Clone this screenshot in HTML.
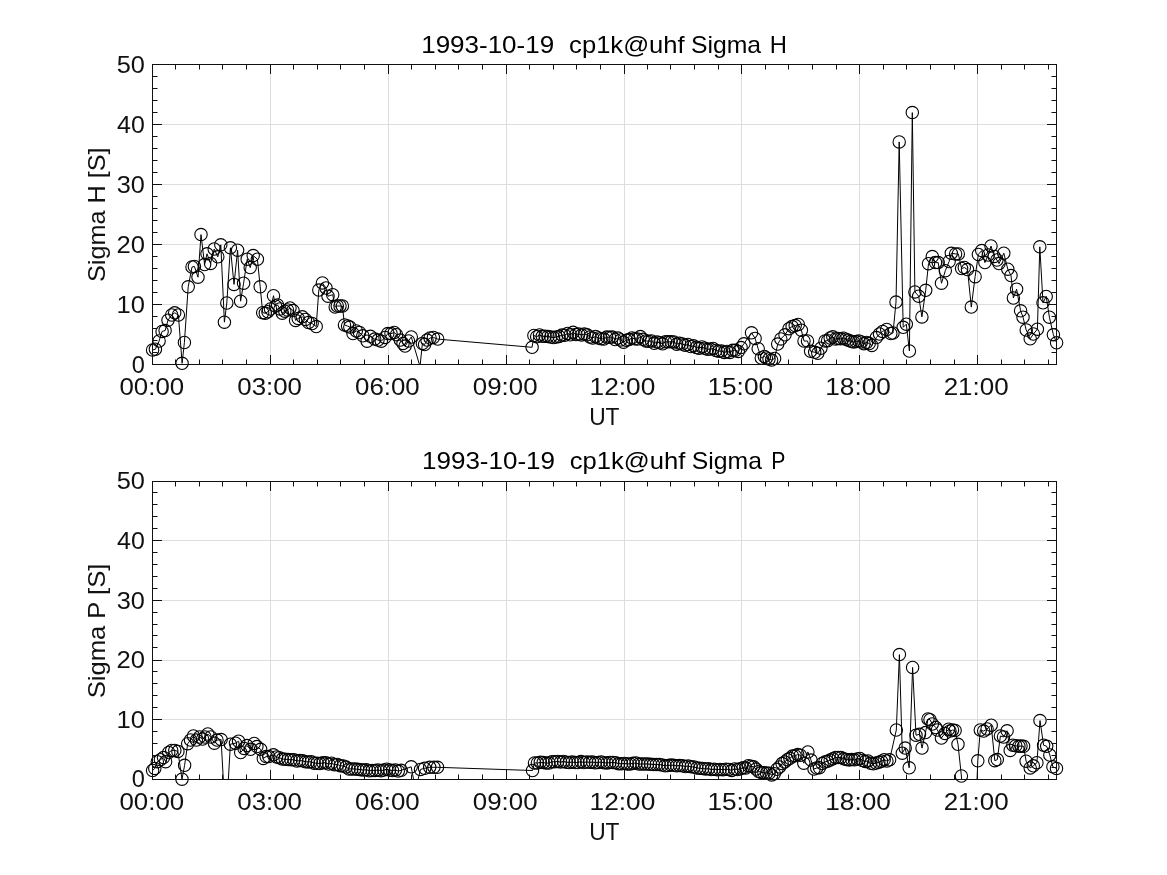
<!DOCTYPE html><html><head><meta charset="utf-8"><style>html,body{margin:0;padding:0;background:#fff;}svg{display:block;will-change:transform} text{font-family:"Liberation Sans",sans-serif;}</style></head><body>
<svg width="1167" height="875" viewBox="0 0 1167 875">
<rect width="1167" height="875" fill="#fff"/>
<path d="M270.5 64.5V364.5M388.5 64.5V364.5M506.5 64.5V364.5M624.5 64.5V364.5M741.5 64.5V364.5M859.5 64.5V364.5M977.5 64.5V364.5M152.5 304.5H1056.5M152.5 244.5H1056.5M152.5 184.5H1056.5M152.5 124.5H1056.5" stroke="#dedede" stroke-width="1" fill="none"/>
<svg x="152.5" y="64.5" width="904.0" height="300.0" viewBox="152.5 64.5 904.0 300.0" overflow="hidden">
<path d="M152.6 350.0 L155.4 349.2 L159.1 341.0 L162.1 331.4 L165.1 330.6 L168.0 320.2 L171.7 315.0 L174.7 312.8 L178.4 315.0 L182.1 363.3 L184.4 342.5 L188.2 286.8 L192.0 267.0 L194.4 266.4 L198.0 277.2 L201.0 234.6 L204.6 264.6 L207.0 253.8 L210.6 263.4 L214.2 249.0 L217.8 256.8 L220.8 244.8 L224.4 322.2 L226.8 303.0 L230.4 247.8 L234.0 284.4 L237.6 250.2 L240.6 301.2 L243.6 283.2 L247.2 259.2 L250.2 267.6 L253.2 255.6 L257.4 259.2 L260.2 286.8 L262.7 312.7 L265.3 313.2 L267.9 311.7 L270.5 309.0 L273.5 295.7 L275.6 306.0 L277.6 305.0 L280.0 309.0 L282.3 313.2 L284.8 311.2 L287.5 310.0 L290.0 308.0 L293.0 310.6 L295.6 320.4 L298.2 318.4 L302.3 316.8 L305.4 319.4 L308.5 322.5 L312.1 323.5 L316.2 326.6 L318.8 290.1 L322.4 282.9 L326.0 288.0 L328.0 296.2 L332.7 294.7 L335.2 307.0 L337.3 306.0 L340.0 306.0 L342.4 306.0 L344.5 325.0 L347.6 326.0 L349.8 327.1 L353.0 333.6 L356.3 330.9 L359.5 332.5 L362.8 335.8 L367.1 341.2 L370.4 336.3 L374.7 339.1 L378.0 340.1 L381.3 341.2 L385.0 337.4 L387.8 333.6 L391.0 333.6 L394.3 332.5 L396.5 334.7 L400.3 340.1 L403.0 343.4 L405.1 346.1 L408.5 341.0 L411.3 337.0 L420.0 366.5 L422.4 343.4 L424.6 344.5 L427.0 340.1 L430.1 338.0 L433.4 337.4 L437.7 339.1 L532.1 347.3 L533.9 335.5 L536.7 336.7 L539.5 335.0 L542.3 336.3 L545.1 336.2 L547.9 336.5 L550.7 337.1 L553.5 337.6 L556.3 336.9 L559.1 336.4 L561.9 335.1 L564.7 335.2 L567.5 333.4 L570.3 334.8 L573.1 332.3 L575.9 334.5 L578.7 334.1 L581.5 334.9 L584.3 334.1 L587.1 334.8 L589.9 336.9 L592.7 337.9 L595.5 336.5 L598.3 337.9 L601.1 338.7 L603.9 339.1 L606.7 337.1 L609.5 337.2 L612.3 337.1 L615.1 339.5 L617.9 338.1 L620.7 339.9 L623.5 342.2 L626.3 340.2 L629.1 339.6 L631.9 337.9 L634.7 338.8 L637.5 339.0 L640.3 336.6 L643.1 339.3 L645.9 340.9 L648.7 341.2 L651.5 340.9 L654.3 343.3 L657.1 342.1 L659.9 342.8 L662.7 343.8 L665.5 341.8 L668.3 341.8 L671.1 341.8 L673.9 341.9 L676.7 344.2 L679.5 343.3 L682.3 344.0 L685.1 345.2 L687.9 344.5 L690.7 346.5 L693.5 345.8 L696.3 347.5 L699.1 348.2 L701.9 346.9 L704.7 348.2 L707.5 349.3 L710.3 349.1 L713.1 348.5 L715.9 350.4 L718.7 351.2 L721.5 351.1 L724.3 352.4 L727.1 351.5 L729.9 352.4 L732.7 350.3 L735.5 350.3 L738.3 351.4 L741.1 347.6 L743.9 343.8 L751.5 332.8 L755.1 338.4 L758.2 348.7 L761.3 358.0 L764.4 356.4 L766.4 358.0 L769.0 359.0 L771.6 360.0 L774.6 358.5 L777.7 344.1 L780.8 338.9 L785.0 334.8 L789.0 328.7 L792.1 326.6 L795.2 325.6 L798.3 324.5 L801.4 330.2 L804.0 341.0 L807.5 341.0 L810.6 351.3 L814.7 352.3 L817.8 353.3 L820.9 348.2 L825.0 341.0 L827.6 340.7 L830.2 338.0 L832.8 336.8 L835.4 339.0 L838.0 338.4 L840.6 338.8 L843.2 338.2 L845.8 339.2 L848.4 340.2 L851.0 341.2 L853.6 342.0 L856.2 341.5 L858.8 341.0 L861.4 341.9 L864.0 343.7 L866.6 342.4 L869.2 343.6 L871.8 345.4 L876.4 337.6 L879.5 334.0 L882.6 331.4 L886.7 329.4 L890.8 333.5 L893.0 333.0 L896.0 302.1 L899.2 141.9 L903.2 327.3 L906.3 324.2 L909.4 351.0 L912.3 112.6 L914.9 291.9 L918.7 296.2 L921.9 316.9 L925.7 290.3 L928.5 263.7 L932.3 256.6 L935.5 262.6 L938.2 262.6 L941.5 283.2 L945.3 270.7 L949.1 261.5 L951.3 253.3 L955.6 253.9 L958.3 253.9 L961.6 268.5 L964.3 267.5 L967.5 269.6 L971.3 307.1 L975.1 276.7 L978.4 254.4 L981.7 250.6 L984.9 262.6 L988.2 255.0 L991.0 246.0 L994.2 256.4 L996.9 260.0 L999.0 263.6 L1003.8 253.2 L1007.8 269.2 L1011.0 275.6 L1013.4 298.0 L1016.6 289.2 L1020.6 310.8 L1023.0 317.2 L1026.2 330.0 L1030.2 338.8 L1033.4 334.0 L1037.4 329.2 L1039.8 246.8 L1043.0 302.8 L1046.2 296.4 L1049.4 317.2 L1053.4 334.8 L1056.6 342.8" stroke="#000" stroke-width="1" fill="none"/>
</svg>
<g stroke="#000" stroke-width="1.1" fill="none"><circle cx="152.6" cy="350.0" r="6.2"/><circle cx="155.4" cy="349.2" r="6.2"/><circle cx="159.1" cy="341.0" r="6.2"/><circle cx="162.1" cy="331.4" r="6.2"/><circle cx="165.1" cy="330.6" r="6.2"/><circle cx="168.0" cy="320.2" r="6.2"/><circle cx="171.7" cy="315.0" r="6.2"/><circle cx="174.7" cy="312.8" r="6.2"/><circle cx="178.4" cy="315.0" r="6.2"/><circle cx="182.1" cy="363.3" r="6.2"/><circle cx="184.4" cy="342.5" r="6.2"/><circle cx="188.2" cy="286.8" r="6.2"/><circle cx="192.0" cy="267.0" r="6.2"/><circle cx="194.4" cy="266.4" r="6.2"/><circle cx="198.0" cy="277.2" r="6.2"/><circle cx="201.0" cy="234.6" r="6.2"/><circle cx="204.6" cy="264.6" r="6.2"/><circle cx="207.0" cy="253.8" r="6.2"/><circle cx="210.6" cy="263.4" r="6.2"/><circle cx="214.2" cy="249.0" r="6.2"/><circle cx="217.8" cy="256.8" r="6.2"/><circle cx="220.8" cy="244.8" r="6.2"/><circle cx="224.4" cy="322.2" r="6.2"/><circle cx="226.8" cy="303.0" r="6.2"/><circle cx="230.4" cy="247.8" r="6.2"/><circle cx="234.0" cy="284.4" r="6.2"/><circle cx="237.6" cy="250.2" r="6.2"/><circle cx="240.6" cy="301.2" r="6.2"/><circle cx="243.6" cy="283.2" r="6.2"/><circle cx="247.2" cy="259.2" r="6.2"/><circle cx="250.2" cy="267.6" r="6.2"/><circle cx="253.2" cy="255.6" r="6.2"/><circle cx="257.4" cy="259.2" r="6.2"/><circle cx="260.2" cy="286.8" r="6.2"/><circle cx="262.7" cy="312.7" r="6.2"/><circle cx="265.3" cy="313.2" r="6.2"/><circle cx="267.9" cy="311.7" r="6.2"/><circle cx="270.5" cy="309.0" r="6.2"/><circle cx="273.5" cy="295.7" r="6.2"/><circle cx="275.6" cy="306.0" r="6.2"/><circle cx="277.6" cy="305.0" r="6.2"/><circle cx="280.0" cy="309.0" r="6.2"/><circle cx="282.3" cy="313.2" r="6.2"/><circle cx="284.8" cy="311.2" r="6.2"/><circle cx="287.5" cy="310.0" r="6.2"/><circle cx="290.0" cy="308.0" r="6.2"/><circle cx="293.0" cy="310.6" r="6.2"/><circle cx="295.6" cy="320.4" r="6.2"/><circle cx="298.2" cy="318.4" r="6.2"/><circle cx="302.3" cy="316.8" r="6.2"/><circle cx="305.4" cy="319.4" r="6.2"/><circle cx="308.5" cy="322.5" r="6.2"/><circle cx="312.1" cy="323.5" r="6.2"/><circle cx="316.2" cy="326.6" r="6.2"/><circle cx="318.8" cy="290.1" r="6.2"/><circle cx="322.4" cy="282.9" r="6.2"/><circle cx="326.0" cy="288.0" r="6.2"/><circle cx="328.0" cy="296.2" r="6.2"/><circle cx="332.7" cy="294.7" r="6.2"/><circle cx="335.2" cy="307.0" r="6.2"/><circle cx="337.3" cy="306.0" r="6.2"/><circle cx="340.0" cy="306.0" r="6.2"/><circle cx="342.4" cy="306.0" r="6.2"/><circle cx="344.5" cy="325.0" r="6.2"/><circle cx="347.6" cy="326.0" r="6.2"/><circle cx="349.8" cy="327.1" r="6.2"/><circle cx="353.0" cy="333.6" r="6.2"/><circle cx="356.3" cy="330.9" r="6.2"/><circle cx="359.5" cy="332.5" r="6.2"/><circle cx="362.8" cy="335.8" r="6.2"/><circle cx="367.1" cy="341.2" r="6.2"/><circle cx="370.4" cy="336.3" r="6.2"/><circle cx="374.7" cy="339.1" r="6.2"/><circle cx="378.0" cy="340.1" r="6.2"/><circle cx="381.3" cy="341.2" r="6.2"/><circle cx="385.0" cy="337.4" r="6.2"/><circle cx="387.8" cy="333.6" r="6.2"/><circle cx="391.0" cy="333.6" r="6.2"/><circle cx="394.3" cy="332.5" r="6.2"/><circle cx="396.5" cy="334.7" r="6.2"/><circle cx="400.3" cy="340.1" r="6.2"/><circle cx="403.0" cy="343.4" r="6.2"/><circle cx="405.1" cy="346.1" r="6.2"/><circle cx="408.5" cy="341.0" r="6.2"/><circle cx="411.3" cy="337.0" r="6.2"/><circle cx="422.4" cy="343.4" r="6.2"/><circle cx="424.6" cy="344.5" r="6.2"/><circle cx="427.0" cy="340.1" r="6.2"/><circle cx="430.1" cy="338.0" r="6.2"/><circle cx="433.4" cy="337.4" r="6.2"/><circle cx="437.7" cy="339.1" r="6.2"/><circle cx="532.1" cy="347.3" r="6.2"/><circle cx="533.9" cy="335.5" r="6.2"/><circle cx="536.7" cy="336.7" r="6.2"/><circle cx="539.5" cy="335.0" r="6.2"/><circle cx="542.3" cy="336.3" r="6.2"/><circle cx="545.1" cy="336.2" r="6.2"/><circle cx="547.9" cy="336.5" r="6.2"/><circle cx="550.7" cy="337.1" r="6.2"/><circle cx="553.5" cy="337.6" r="6.2"/><circle cx="556.3" cy="336.9" r="6.2"/><circle cx="559.1" cy="336.4" r="6.2"/><circle cx="561.9" cy="335.1" r="6.2"/><circle cx="564.7" cy="335.2" r="6.2"/><circle cx="567.5" cy="333.4" r="6.2"/><circle cx="570.3" cy="334.8" r="6.2"/><circle cx="573.1" cy="332.3" r="6.2"/><circle cx="575.9" cy="334.5" r="6.2"/><circle cx="578.7" cy="334.1" r="6.2"/><circle cx="581.5" cy="334.9" r="6.2"/><circle cx="584.3" cy="334.1" r="6.2"/><circle cx="587.1" cy="334.8" r="6.2"/><circle cx="589.9" cy="336.9" r="6.2"/><circle cx="592.7" cy="337.9" r="6.2"/><circle cx="595.5" cy="336.5" r="6.2"/><circle cx="598.3" cy="337.9" r="6.2"/><circle cx="601.1" cy="338.7" r="6.2"/><circle cx="603.9" cy="339.1" r="6.2"/><circle cx="606.7" cy="337.1" r="6.2"/><circle cx="609.5" cy="337.2" r="6.2"/><circle cx="612.3" cy="337.1" r="6.2"/><circle cx="615.1" cy="339.5" r="6.2"/><circle cx="617.9" cy="338.1" r="6.2"/><circle cx="620.7" cy="339.9" r="6.2"/><circle cx="623.5" cy="342.2" r="6.2"/><circle cx="626.3" cy="340.2" r="6.2"/><circle cx="629.1" cy="339.6" r="6.2"/><circle cx="631.9" cy="337.9" r="6.2"/><circle cx="634.7" cy="338.8" r="6.2"/><circle cx="637.5" cy="339.0" r="6.2"/><circle cx="640.3" cy="336.6" r="6.2"/><circle cx="643.1" cy="339.3" r="6.2"/><circle cx="645.9" cy="340.9" r="6.2"/><circle cx="648.7" cy="341.2" r="6.2"/><circle cx="651.5" cy="340.9" r="6.2"/><circle cx="654.3" cy="343.3" r="6.2"/><circle cx="657.1" cy="342.1" r="6.2"/><circle cx="659.9" cy="342.8" r="6.2"/><circle cx="662.7" cy="343.8" r="6.2"/><circle cx="665.5" cy="341.8" r="6.2"/><circle cx="668.3" cy="341.8" r="6.2"/><circle cx="671.1" cy="341.8" r="6.2"/><circle cx="673.9" cy="341.9" r="6.2"/><circle cx="676.7" cy="344.2" r="6.2"/><circle cx="679.5" cy="343.3" r="6.2"/><circle cx="682.3" cy="344.0" r="6.2"/><circle cx="685.1" cy="345.2" r="6.2"/><circle cx="687.9" cy="344.5" r="6.2"/><circle cx="690.7" cy="346.5" r="6.2"/><circle cx="693.5" cy="345.8" r="6.2"/><circle cx="696.3" cy="347.5" r="6.2"/><circle cx="699.1" cy="348.2" r="6.2"/><circle cx="701.9" cy="346.9" r="6.2"/><circle cx="704.7" cy="348.2" r="6.2"/><circle cx="707.5" cy="349.3" r="6.2"/><circle cx="710.3" cy="349.1" r="6.2"/><circle cx="713.1" cy="348.5" r="6.2"/><circle cx="715.9" cy="350.4" r="6.2"/><circle cx="718.7" cy="351.2" r="6.2"/><circle cx="721.5" cy="351.1" r="6.2"/><circle cx="724.3" cy="352.4" r="6.2"/><circle cx="727.1" cy="351.5" r="6.2"/><circle cx="729.9" cy="352.4" r="6.2"/><circle cx="732.7" cy="350.3" r="6.2"/><circle cx="735.5" cy="350.3" r="6.2"/><circle cx="738.3" cy="351.4" r="6.2"/><circle cx="741.1" cy="347.6" r="6.2"/><circle cx="743.9" cy="343.8" r="6.2"/><circle cx="751.5" cy="332.8" r="6.2"/><circle cx="755.1" cy="338.4" r="6.2"/><circle cx="758.2" cy="348.7" r="6.2"/><circle cx="761.3" cy="358.0" r="6.2"/><circle cx="764.4" cy="356.4" r="6.2"/><circle cx="766.4" cy="358.0" r="6.2"/><circle cx="769.0" cy="359.0" r="6.2"/><circle cx="771.6" cy="360.0" r="6.2"/><circle cx="774.6" cy="358.5" r="6.2"/><circle cx="777.7" cy="344.1" r="6.2"/><circle cx="780.8" cy="338.9" r="6.2"/><circle cx="785.0" cy="334.8" r="6.2"/><circle cx="789.0" cy="328.7" r="6.2"/><circle cx="792.1" cy="326.6" r="6.2"/><circle cx="795.2" cy="325.6" r="6.2"/><circle cx="798.3" cy="324.5" r="6.2"/><circle cx="801.4" cy="330.2" r="6.2"/><circle cx="804.0" cy="341.0" r="6.2"/><circle cx="807.5" cy="341.0" r="6.2"/><circle cx="810.6" cy="351.3" r="6.2"/><circle cx="814.7" cy="352.3" r="6.2"/><circle cx="817.8" cy="353.3" r="6.2"/><circle cx="820.9" cy="348.2" r="6.2"/><circle cx="825.0" cy="341.0" r="6.2"/><circle cx="827.6" cy="340.7" r="6.2"/><circle cx="830.2" cy="338.0" r="6.2"/><circle cx="832.8" cy="336.8" r="6.2"/><circle cx="835.4" cy="339.0" r="6.2"/><circle cx="838.0" cy="338.4" r="6.2"/><circle cx="840.6" cy="338.8" r="6.2"/><circle cx="843.2" cy="338.2" r="6.2"/><circle cx="845.8" cy="339.2" r="6.2"/><circle cx="848.4" cy="340.2" r="6.2"/><circle cx="851.0" cy="341.2" r="6.2"/><circle cx="853.6" cy="342.0" r="6.2"/><circle cx="856.2" cy="341.5" r="6.2"/><circle cx="858.8" cy="341.0" r="6.2"/><circle cx="861.4" cy="341.9" r="6.2"/><circle cx="864.0" cy="343.7" r="6.2"/><circle cx="866.6" cy="342.4" r="6.2"/><circle cx="869.2" cy="343.6" r="6.2"/><circle cx="871.8" cy="345.4" r="6.2"/><circle cx="876.4" cy="337.6" r="6.2"/><circle cx="879.5" cy="334.0" r="6.2"/><circle cx="882.6" cy="331.4" r="6.2"/><circle cx="886.7" cy="329.4" r="6.2"/><circle cx="890.8" cy="333.5" r="6.2"/><circle cx="893.0" cy="333.0" r="6.2"/><circle cx="896.0" cy="302.1" r="6.2"/><circle cx="899.2" cy="141.9" r="6.2"/><circle cx="903.2" cy="327.3" r="6.2"/><circle cx="906.3" cy="324.2" r="6.2"/><circle cx="909.4" cy="351.0" r="6.2"/><circle cx="912.3" cy="112.6" r="6.2"/><circle cx="914.9" cy="291.9" r="6.2"/><circle cx="918.7" cy="296.2" r="6.2"/><circle cx="921.9" cy="316.9" r="6.2"/><circle cx="925.7" cy="290.3" r="6.2"/><circle cx="928.5" cy="263.7" r="6.2"/><circle cx="932.3" cy="256.6" r="6.2"/><circle cx="935.5" cy="262.6" r="6.2"/><circle cx="938.2" cy="262.6" r="6.2"/><circle cx="941.5" cy="283.2" r="6.2"/><circle cx="945.3" cy="270.7" r="6.2"/><circle cx="949.1" cy="261.5" r="6.2"/><circle cx="951.3" cy="253.3" r="6.2"/><circle cx="955.6" cy="253.9" r="6.2"/><circle cx="958.3" cy="253.9" r="6.2"/><circle cx="961.6" cy="268.5" r="6.2"/><circle cx="964.3" cy="267.5" r="6.2"/><circle cx="967.5" cy="269.6" r="6.2"/><circle cx="971.3" cy="307.1" r="6.2"/><circle cx="975.1" cy="276.7" r="6.2"/><circle cx="978.4" cy="254.4" r="6.2"/><circle cx="981.7" cy="250.6" r="6.2"/><circle cx="984.9" cy="262.6" r="6.2"/><circle cx="988.2" cy="255.0" r="6.2"/><circle cx="991.0" cy="246.0" r="6.2"/><circle cx="994.2" cy="256.4" r="6.2"/><circle cx="996.9" cy="260.0" r="6.2"/><circle cx="999.0" cy="263.6" r="6.2"/><circle cx="1003.8" cy="253.2" r="6.2"/><circle cx="1007.8" cy="269.2" r="6.2"/><circle cx="1011.0" cy="275.6" r="6.2"/><circle cx="1013.4" cy="298.0" r="6.2"/><circle cx="1016.6" cy="289.2" r="6.2"/><circle cx="1020.6" cy="310.8" r="6.2"/><circle cx="1023.0" cy="317.2" r="6.2"/><circle cx="1026.2" cy="330.0" r="6.2"/><circle cx="1030.2" cy="338.8" r="6.2"/><circle cx="1033.4" cy="334.0" r="6.2"/><circle cx="1037.4" cy="329.2" r="6.2"/><circle cx="1039.8" cy="246.8" r="6.2"/><circle cx="1043.0" cy="302.8" r="6.2"/><circle cx="1046.2" cy="296.4" r="6.2"/><circle cx="1049.4" cy="317.2" r="6.2"/><circle cx="1053.4" cy="334.8" r="6.2"/><circle cx="1056.6" cy="342.8" r="6.2"/></g>
<path d="M152.5 364.5v-9.5M152.5 64.5v9.5M175.5 364.5v-5.0M175.5 64.5v5.0M199.5 364.5v-5.0M199.5 64.5v5.0M222.5 364.5v-5.0M222.5 64.5v5.0M246.5 364.5v-5.0M246.5 64.5v5.0M270.5 364.5v-9.5M270.5 64.5v9.5M293.5 364.5v-5.0M293.5 64.5v5.0M317.5 364.5v-5.0M317.5 64.5v5.0M340.5 364.5v-5.0M340.5 64.5v5.0M364.5 364.5v-5.0M364.5 64.5v5.0M388.5 364.5v-9.5M388.5 64.5v9.5M411.5 364.5v-5.0M411.5 64.5v5.0M435.5 364.5v-5.0M435.5 64.5v5.0M458.5 364.5v-5.0M458.5 64.5v5.0M482.5 364.5v-5.0M482.5 64.5v5.0M506.5 364.5v-9.5M506.5 64.5v9.5M529.5 364.5v-5.0M529.5 64.5v5.0M553.5 364.5v-5.0M553.5 64.5v5.0M576.5 364.5v-5.0M576.5 64.5v5.0M600.5 364.5v-5.0M600.5 64.5v5.0M624.5 364.5v-9.5M624.5 64.5v9.5M647.5 364.5v-5.0M647.5 64.5v5.0M670.5 364.5v-5.0M670.5 64.5v5.0M694.5 364.5v-5.0M694.5 64.5v5.0M718.5 364.5v-5.0M718.5 64.5v5.0M741.5 364.5v-9.5M741.5 64.5v9.5M765.5 364.5v-5.0M765.5 64.5v5.0M788.5 364.5v-5.0M788.5 64.5v5.0M812.5 364.5v-5.0M812.5 64.5v5.0M836.5 364.5v-5.0M836.5 64.5v5.0M859.5 364.5v-9.5M859.5 64.5v9.5M883.5 364.5v-5.0M883.5 64.5v5.0M906.5 364.5v-5.0M906.5 64.5v5.0M930.5 364.5v-5.0M930.5 64.5v5.0M954.5 364.5v-5.0M954.5 64.5v5.0M977.5 364.5v-9.5M977.5 64.5v9.5M1001.5 364.5v-5.0M1001.5 64.5v5.0M1024.5 364.5v-5.0M1024.5 64.5v5.0M1048.5 364.5v-5.0M1048.5 64.5v5.0M152.5 364.5h9.5M1056.5 364.5h-9.5M152.5 352.5h5.0M1056.5 352.5h-5.0M152.5 340.5h5.0M1056.5 340.5h-5.0M152.5 328.5h5.0M1056.5 328.5h-5.0M152.5 316.5h5.0M1056.5 316.5h-5.0M152.5 304.5h9.5M1056.5 304.5h-9.5M152.5 292.5h5.0M1056.5 292.5h-5.0M152.5 280.5h5.0M1056.5 280.5h-5.0M152.5 268.5h5.0M1056.5 268.5h-5.0M152.5 256.5h5.0M1056.5 256.5h-5.0M152.5 244.5h9.5M1056.5 244.5h-9.5M152.5 232.5h5.0M1056.5 232.5h-5.0M152.5 220.5h5.0M1056.5 220.5h-5.0M152.5 208.5h5.0M1056.5 208.5h-5.0M152.5 196.5h5.0M1056.5 196.5h-5.0M152.5 184.5h9.5M1056.5 184.5h-9.5M152.5 172.5h5.0M1056.5 172.5h-5.0M152.5 160.5h5.0M1056.5 160.5h-5.0M152.5 148.5h5.0M1056.5 148.5h-5.0M152.5 136.5h5.0M1056.5 136.5h-5.0M152.5 124.5h9.5M1056.5 124.5h-9.5M152.5 112.5h5.0M1056.5 112.5h-5.0M152.5 100.5h5.0M1056.5 100.5h-5.0M152.5 88.5h5.0M1056.5 88.5h-5.0M152.5 76.5h5.0M1056.5 76.5h-5.0M152.5 64.5h9.5M1056.5 64.5h-9.5" stroke="#111" stroke-width="1" fill="none"/>
<rect x="152.5" y="64.5" width="904.0" height="300.0" stroke="#111" stroke-width="1" fill="none"/>
<text x="131.68" y="372.82" font-size="23.7" fill="#111" textLength="13.15" lengthAdjust="spacingAndGlyphs">0</text><text x="116.46" y="312.82" font-size="23.7" fill="#111" textLength="28.45" lengthAdjust="spacingAndGlyphs">10</text><text x="116.42" y="252.82" font-size="23.7" fill="#111" textLength="28.49" lengthAdjust="spacingAndGlyphs">20</text><text x="116.74" y="192.82" font-size="23.7" fill="#111" textLength="28.16" lengthAdjust="spacingAndGlyphs">30</text><text x="117.13" y="132.82" font-size="23.7" fill="#111" textLength="27.75" lengthAdjust="spacingAndGlyphs">40</text><text x="116.69" y="72.82" font-size="23.7" fill="#111" textLength="28.21" lengthAdjust="spacingAndGlyphs">50</text><text x="119.47" y="394.90" font-size="23.7" fill="#111" textLength="64.73" lengthAdjust="spacingAndGlyphs">00:00</text><text x="237.25" y="394.90" font-size="23.7" fill="#111" textLength="64.73" lengthAdjust="spacingAndGlyphs">03:00</text><text x="355.04" y="394.90" font-size="23.7" fill="#111" textLength="64.73" lengthAdjust="spacingAndGlyphs">06:00</text><text x="472.82" y="394.90" font-size="23.7" fill="#111" textLength="64.73" lengthAdjust="spacingAndGlyphs">09:00</text><text x="589.62" y="394.90" font-size="23.7" fill="#111" textLength="65.73" lengthAdjust="spacingAndGlyphs">12:00</text><text x="707.40" y="394.90" font-size="23.7" fill="#111" textLength="65.73" lengthAdjust="spacingAndGlyphs">15:00</text><text x="825.18" y="394.90" font-size="23.7" fill="#111" textLength="65.73" lengthAdjust="spacingAndGlyphs">18:00</text><text x="943.66" y="394.90" font-size="23.7" fill="#111" textLength="65.02" lengthAdjust="spacingAndGlyphs">21:00</text><text x="589.15" y="425.00" font-size="23.7" fill="#111" textLength="30.38" lengthAdjust="spacingAndGlyphs">UT</text><text transform="translate(105.0 280.90) rotate(-90)" x="-1.16" y="0" font-size="24.0" fill="#111" textLength="134.60" lengthAdjust="spacingAndGlyphs">Sigma H [S]</text><text x="421.23" y="52.80" font-size="24.0" fill="#000" textLength="132.90" lengthAdjust="spacingAndGlyphs">1993-10-19</text><text x="569.13" y="52.80" font-size="24.0" fill="#000" textLength="115.54" lengthAdjust="spacingAndGlyphs">cp1k@uhf</text><text x="690.96" y="52.80" font-size="24.0" fill="#000" textLength="70.15" lengthAdjust="spacingAndGlyphs">Sigma</text><text x="769.85" y="52.80" font-size="24.0" fill="#000" textLength="17.18" lengthAdjust="spacingAndGlyphs">H</text>
<path d="M270.5 481.5V779.5M388.5 481.5V779.5M506.5 481.5V779.5M624.5 481.5V779.5M741.5 481.5V779.5M859.5 481.5V779.5M977.5 481.5V779.5M152.5 719.5H1056.5M152.5 660.5H1056.5M152.5 600.5H1056.5M152.5 540.5H1056.5" stroke="#dedede" stroke-width="1" fill="none"/>
<svg x="152.5" y="481.5" width="904.0" height="298.0" viewBox="152.5 481.5 904.0 298.0" overflow="hidden">
<path d="M152.6 770.5 L154.8 768.4 L157.3 761.7 L160.4 759.7 L163.5 757.6 L165.6 761.7 L168.7 752.5 L171.7 750.4 L174.8 750.4 L177.9 751.4 L182.0 779.2 L184.6 765.3 L187.7 743.7 L190.5 740.0 L193.4 736.0 L196.4 740.1 L199.5 737.0 L202.6 739.1 L205.0 737.0 L207.8 734.0 L210.8 737.0 L214.4 743.2 L217.0 740.1 L221.1 739.6 L225.8 824.0 L230.4 744.2 L235.5 743.2 L238.6 741.2 L240.7 752.5 L244.1 748.4 L246.9 745.6 L250.5 749.3 L254.2 743.4 L256.9 746.6 L260.6 749.3 L263.3 758.4 L266.1 756.6 L268.8 756.6 L273.4 754.8 L276.5 756.9 L279.4 757.7 L282.3 759.1 L285.2 759.2 L288.1 759.6 L291.0 759.7 L293.9 759.8 L296.8 761.0 L299.7 760.6 L302.6 760.8 L305.5 761.8 L308.4 761.9 L311.3 761.8 L314.2 763.2 L317.1 763.2 L320.0 763.6 L322.9 762.8 L325.8 762.8 L328.7 764.1 L331.6 763.2 L334.5 764.7 L337.4 764.4 L340.3 765.7 L343.2 766.0 L346.1 767.1 L349.0 769.0 L351.9 768.9 L354.8 768.9 L357.7 769.3 L360.6 769.7 L363.5 770.1 L366.4 769.7 L369.3 770.8 L372.2 770.5 L375.1 770.4 L378.0 770.0 L380.9 770.7 L383.8 770.1 L386.7 769.2 L389.6 770.1 L392.5 770.6 L395.4 770.0 L398.3 771.1 L401.2 770.3 L411.2 766.8 L415.5 790.0 L420.5 769.4 L424.6 768.3 L429.7 767.3 L433.9 767.3 L437.5 767.3 L532.5 770.5 L534.5 762.9 L537.4 763.1 L540.3 762.3 L543.2 762.6 L546.1 763.1 L549.0 763.0 L551.9 761.7 L554.8 761.8 L557.7 761.5 L560.6 762.1 L563.5 761.5 L566.4 762.2 L569.3 762.5 L572.2 762.0 L575.1 762.6 L578.0 762.5 L580.9 761.6 L583.8 762.5 L586.7 762.0 L589.6 762.3 L592.5 762.1 L595.4 762.8 L598.3 762.4 L601.2 762.0 L604.1 762.7 L607.0 763.1 L609.9 762.5 L612.8 762.4 L615.7 762.7 L618.6 763.7 L621.5 763.8 L624.4 763.4 L627.3 763.9 L630.2 763.9 L633.1 763.3 L636.0 763.0 L638.9 764.1 L641.8 764.1 L644.7 763.9 L647.6 763.9 L650.5 764.3 L653.4 764.6 L656.3 764.4 L659.2 764.6 L662.1 765.0 L665.0 765.8 L667.9 765.5 L670.8 765.1 L673.7 765.3 L676.6 765.8 L679.5 765.6 L682.4 765.8 L685.3 766.5 L688.2 766.0 L691.1 766.8 L694.0 767.0 L696.9 767.9 L699.8 768.3 L702.7 768.5 L705.6 768.9 L708.5 768.7 L711.4 769.6 L714.3 769.2 L717.2 769.7 L720.1 769.4 L723.0 769.7 L725.9 769.2 L728.8 769.5 L731.7 770.4 L734.6 769.0 L737.5 769.5 L740.4 768.8 L743.1 767.7 L745.7 768.1 L748.3 765.7 L750.9 766.2 L753.5 766.8 L756.1 769.1 L758.7 771.4 L761.3 772.6 L763.9 772.7 L766.5 773.0 L769.1 773.2 L771.7 774.9 L774.3 773.7 L776.9 769.3 L779.5 766.9 L782.1 763.6 L784.7 761.9 L787.3 759.7 L789.9 758.3 L792.5 756.1 L795.1 755.7 L797.7 754.6 L800.3 755.2 L803.8 763.2 L807.9 751.9 L811.0 760.1 L814.0 769.1 L816.7 768.0 L819.4 767.7 L822.1 763.5 L824.8 761.9 L827.5 761.3 L830.2 760.1 L832.9 758.8 L835.6 757.5 L838.3 757.4 L841.0 757.5 L843.7 758.8 L846.4 759.5 L849.1 760.0 L851.8 759.6 L854.5 759.8 L857.2 758.9 L859.9 758.5 L862.6 760.4 L865.3 761.4 L868.0 760.9 L870.7 763.3 L873.4 763.8 L876.1 763.0 L878.8 762.3 L881.5 761.2 L884.2 759.7 L886.9 760.9 L889.6 759.8 L896.3 730.0 L899.4 654.6 L902.3 753.2 L905.2 748.1 L909.2 767.8 L912.6 667.4 L916.0 735.2 L919.5 734.3 L922.0 748.1 L925.5 732.6 L928.0 719.0 L930.0 719.7 L932.3 724.0 L935.8 727.5 L937.4 730.0 L941.4 738.0 L944.9 733.4 L948.6 729.2 L950.0 731.1 L952.5 730.0 L955.1 730.6 L958.0 744.3 L961.4 776.0 L966.0 830.0 L976.4 795.0 L977.8 760.8 L980.3 730.0 L983.7 731.1 L987.1 728.9 L991.2 725.2 L994.8 760.7 L997.3 759.6 L1000.4 736.0 L1003.5 737.0 L1007.1 730.8 L1010.2 750.4 L1012.8 745.2 L1015.8 745.8 L1018.9 746.3 L1021.0 746.0 L1023.6 746.3 L1026.1 761.2 L1030.2 767.9 L1033.3 765.8 L1036.9 762.7 L1040.0 720.6 L1043.6 745.2 L1046.7 746.3 L1049.8 755.0 L1052.9 766.8 L1056.5 768.4" stroke="#000" stroke-width="1" fill="none"/>
</svg>
<g stroke="#000" stroke-width="1.1" fill="none"><circle cx="152.6" cy="770.5" r="6.2"/><circle cx="154.8" cy="768.4" r="6.2"/><circle cx="157.3" cy="761.7" r="6.2"/><circle cx="160.4" cy="759.7" r="6.2"/><circle cx="163.5" cy="757.6" r="6.2"/><circle cx="165.6" cy="761.7" r="6.2"/><circle cx="168.7" cy="752.5" r="6.2"/><circle cx="171.7" cy="750.4" r="6.2"/><circle cx="174.8" cy="750.4" r="6.2"/><circle cx="177.9" cy="751.4" r="6.2"/><circle cx="182.0" cy="779.2" r="6.2"/><circle cx="184.6" cy="765.3" r="6.2"/><circle cx="187.7" cy="743.7" r="6.2"/><circle cx="190.5" cy="740.0" r="6.2"/><circle cx="193.4" cy="736.0" r="6.2"/><circle cx="196.4" cy="740.1" r="6.2"/><circle cx="199.5" cy="737.0" r="6.2"/><circle cx="202.6" cy="739.1" r="6.2"/><circle cx="205.0" cy="737.0" r="6.2"/><circle cx="207.8" cy="734.0" r="6.2"/><circle cx="210.8" cy="737.0" r="6.2"/><circle cx="214.4" cy="743.2" r="6.2"/><circle cx="217.0" cy="740.1" r="6.2"/><circle cx="221.1" cy="739.6" r="6.2"/><circle cx="230.4" cy="744.2" r="6.2"/><circle cx="235.5" cy="743.2" r="6.2"/><circle cx="238.6" cy="741.2" r="6.2"/><circle cx="240.7" cy="752.5" r="6.2"/><circle cx="244.1" cy="748.4" r="6.2"/><circle cx="246.9" cy="745.6" r="6.2"/><circle cx="250.5" cy="749.3" r="6.2"/><circle cx="254.2" cy="743.4" r="6.2"/><circle cx="256.9" cy="746.6" r="6.2"/><circle cx="260.6" cy="749.3" r="6.2"/><circle cx="263.3" cy="758.4" r="6.2"/><circle cx="266.1" cy="756.6" r="6.2"/><circle cx="268.8" cy="756.6" r="6.2"/><circle cx="273.4" cy="754.8" r="6.2"/><circle cx="276.5" cy="756.9" r="6.2"/><circle cx="279.4" cy="757.7" r="6.2"/><circle cx="282.3" cy="759.1" r="6.2"/><circle cx="285.2" cy="759.2" r="6.2"/><circle cx="288.1" cy="759.6" r="6.2"/><circle cx="291.0" cy="759.7" r="6.2"/><circle cx="293.9" cy="759.8" r="6.2"/><circle cx="296.8" cy="761.0" r="6.2"/><circle cx="299.7" cy="760.6" r="6.2"/><circle cx="302.6" cy="760.8" r="6.2"/><circle cx="305.5" cy="761.8" r="6.2"/><circle cx="308.4" cy="761.9" r="6.2"/><circle cx="311.3" cy="761.8" r="6.2"/><circle cx="314.2" cy="763.2" r="6.2"/><circle cx="317.1" cy="763.2" r="6.2"/><circle cx="320.0" cy="763.6" r="6.2"/><circle cx="322.9" cy="762.8" r="6.2"/><circle cx="325.8" cy="762.8" r="6.2"/><circle cx="328.7" cy="764.1" r="6.2"/><circle cx="331.6" cy="763.2" r="6.2"/><circle cx="334.5" cy="764.7" r="6.2"/><circle cx="337.4" cy="764.4" r="6.2"/><circle cx="340.3" cy="765.7" r="6.2"/><circle cx="343.2" cy="766.0" r="6.2"/><circle cx="346.1" cy="767.1" r="6.2"/><circle cx="349.0" cy="769.0" r="6.2"/><circle cx="351.9" cy="768.9" r="6.2"/><circle cx="354.8" cy="768.9" r="6.2"/><circle cx="357.7" cy="769.3" r="6.2"/><circle cx="360.6" cy="769.7" r="6.2"/><circle cx="363.5" cy="770.1" r="6.2"/><circle cx="366.4" cy="769.7" r="6.2"/><circle cx="369.3" cy="770.8" r="6.2"/><circle cx="372.2" cy="770.5" r="6.2"/><circle cx="375.1" cy="770.4" r="6.2"/><circle cx="378.0" cy="770.0" r="6.2"/><circle cx="380.9" cy="770.7" r="6.2"/><circle cx="383.8" cy="770.1" r="6.2"/><circle cx="386.7" cy="769.2" r="6.2"/><circle cx="389.6" cy="770.1" r="6.2"/><circle cx="392.5" cy="770.6" r="6.2"/><circle cx="395.4" cy="770.0" r="6.2"/><circle cx="398.3" cy="771.1" r="6.2"/><circle cx="401.2" cy="770.3" r="6.2"/><circle cx="411.2" cy="766.8" r="6.2"/><circle cx="420.5" cy="769.4" r="6.2"/><circle cx="424.6" cy="768.3" r="6.2"/><circle cx="429.7" cy="767.3" r="6.2"/><circle cx="433.9" cy="767.3" r="6.2"/><circle cx="437.5" cy="767.3" r="6.2"/><circle cx="532.5" cy="770.5" r="6.2"/><circle cx="534.5" cy="762.9" r="6.2"/><circle cx="537.4" cy="763.1" r="6.2"/><circle cx="540.3" cy="762.3" r="6.2"/><circle cx="543.2" cy="762.6" r="6.2"/><circle cx="546.1" cy="763.1" r="6.2"/><circle cx="549.0" cy="763.0" r="6.2"/><circle cx="551.9" cy="761.7" r="6.2"/><circle cx="554.8" cy="761.8" r="6.2"/><circle cx="557.7" cy="761.5" r="6.2"/><circle cx="560.6" cy="762.1" r="6.2"/><circle cx="563.5" cy="761.5" r="6.2"/><circle cx="566.4" cy="762.2" r="6.2"/><circle cx="569.3" cy="762.5" r="6.2"/><circle cx="572.2" cy="762.0" r="6.2"/><circle cx="575.1" cy="762.6" r="6.2"/><circle cx="578.0" cy="762.5" r="6.2"/><circle cx="580.9" cy="761.6" r="6.2"/><circle cx="583.8" cy="762.5" r="6.2"/><circle cx="586.7" cy="762.0" r="6.2"/><circle cx="589.6" cy="762.3" r="6.2"/><circle cx="592.5" cy="762.1" r="6.2"/><circle cx="595.4" cy="762.8" r="6.2"/><circle cx="598.3" cy="762.4" r="6.2"/><circle cx="601.2" cy="762.0" r="6.2"/><circle cx="604.1" cy="762.7" r="6.2"/><circle cx="607.0" cy="763.1" r="6.2"/><circle cx="609.9" cy="762.5" r="6.2"/><circle cx="612.8" cy="762.4" r="6.2"/><circle cx="615.7" cy="762.7" r="6.2"/><circle cx="618.6" cy="763.7" r="6.2"/><circle cx="621.5" cy="763.8" r="6.2"/><circle cx="624.4" cy="763.4" r="6.2"/><circle cx="627.3" cy="763.9" r="6.2"/><circle cx="630.2" cy="763.9" r="6.2"/><circle cx="633.1" cy="763.3" r="6.2"/><circle cx="636.0" cy="763.0" r="6.2"/><circle cx="638.9" cy="764.1" r="6.2"/><circle cx="641.8" cy="764.1" r="6.2"/><circle cx="644.7" cy="763.9" r="6.2"/><circle cx="647.6" cy="763.9" r="6.2"/><circle cx="650.5" cy="764.3" r="6.2"/><circle cx="653.4" cy="764.6" r="6.2"/><circle cx="656.3" cy="764.4" r="6.2"/><circle cx="659.2" cy="764.6" r="6.2"/><circle cx="662.1" cy="765.0" r="6.2"/><circle cx="665.0" cy="765.8" r="6.2"/><circle cx="667.9" cy="765.5" r="6.2"/><circle cx="670.8" cy="765.1" r="6.2"/><circle cx="673.7" cy="765.3" r="6.2"/><circle cx="676.6" cy="765.8" r="6.2"/><circle cx="679.5" cy="765.6" r="6.2"/><circle cx="682.4" cy="765.8" r="6.2"/><circle cx="685.3" cy="766.5" r="6.2"/><circle cx="688.2" cy="766.0" r="6.2"/><circle cx="691.1" cy="766.8" r="6.2"/><circle cx="694.0" cy="767.0" r="6.2"/><circle cx="696.9" cy="767.9" r="6.2"/><circle cx="699.8" cy="768.3" r="6.2"/><circle cx="702.7" cy="768.5" r="6.2"/><circle cx="705.6" cy="768.9" r="6.2"/><circle cx="708.5" cy="768.7" r="6.2"/><circle cx="711.4" cy="769.6" r="6.2"/><circle cx="714.3" cy="769.2" r="6.2"/><circle cx="717.2" cy="769.7" r="6.2"/><circle cx="720.1" cy="769.4" r="6.2"/><circle cx="723.0" cy="769.7" r="6.2"/><circle cx="725.9" cy="769.2" r="6.2"/><circle cx="728.8" cy="769.5" r="6.2"/><circle cx="731.7" cy="770.4" r="6.2"/><circle cx="734.6" cy="769.0" r="6.2"/><circle cx="737.5" cy="769.5" r="6.2"/><circle cx="740.4" cy="768.8" r="6.2"/><circle cx="743.1" cy="767.7" r="6.2"/><circle cx="745.7" cy="768.1" r="6.2"/><circle cx="748.3" cy="765.7" r="6.2"/><circle cx="750.9" cy="766.2" r="6.2"/><circle cx="753.5" cy="766.8" r="6.2"/><circle cx="756.1" cy="769.1" r="6.2"/><circle cx="758.7" cy="771.4" r="6.2"/><circle cx="761.3" cy="772.6" r="6.2"/><circle cx="763.9" cy="772.7" r="6.2"/><circle cx="766.5" cy="773.0" r="6.2"/><circle cx="769.1" cy="773.2" r="6.2"/><circle cx="771.7" cy="774.9" r="6.2"/><circle cx="774.3" cy="773.7" r="6.2"/><circle cx="776.9" cy="769.3" r="6.2"/><circle cx="779.5" cy="766.9" r="6.2"/><circle cx="782.1" cy="763.6" r="6.2"/><circle cx="784.7" cy="761.9" r="6.2"/><circle cx="787.3" cy="759.7" r="6.2"/><circle cx="789.9" cy="758.3" r="6.2"/><circle cx="792.5" cy="756.1" r="6.2"/><circle cx="795.1" cy="755.7" r="6.2"/><circle cx="797.7" cy="754.6" r="6.2"/><circle cx="800.3" cy="755.2" r="6.2"/><circle cx="803.8" cy="763.2" r="6.2"/><circle cx="807.9" cy="751.9" r="6.2"/><circle cx="811.0" cy="760.1" r="6.2"/><circle cx="814.0" cy="769.1" r="6.2"/><circle cx="816.7" cy="768.0" r="6.2"/><circle cx="819.4" cy="767.7" r="6.2"/><circle cx="822.1" cy="763.5" r="6.2"/><circle cx="824.8" cy="761.9" r="6.2"/><circle cx="827.5" cy="761.3" r="6.2"/><circle cx="830.2" cy="760.1" r="6.2"/><circle cx="832.9" cy="758.8" r="6.2"/><circle cx="835.6" cy="757.5" r="6.2"/><circle cx="838.3" cy="757.4" r="6.2"/><circle cx="841.0" cy="757.5" r="6.2"/><circle cx="843.7" cy="758.8" r="6.2"/><circle cx="846.4" cy="759.5" r="6.2"/><circle cx="849.1" cy="760.0" r="6.2"/><circle cx="851.8" cy="759.6" r="6.2"/><circle cx="854.5" cy="759.8" r="6.2"/><circle cx="857.2" cy="758.9" r="6.2"/><circle cx="859.9" cy="758.5" r="6.2"/><circle cx="862.6" cy="760.4" r="6.2"/><circle cx="865.3" cy="761.4" r="6.2"/><circle cx="868.0" cy="760.9" r="6.2"/><circle cx="870.7" cy="763.3" r="6.2"/><circle cx="873.4" cy="763.8" r="6.2"/><circle cx="876.1" cy="763.0" r="6.2"/><circle cx="878.8" cy="762.3" r="6.2"/><circle cx="881.5" cy="761.2" r="6.2"/><circle cx="884.2" cy="759.7" r="6.2"/><circle cx="886.9" cy="760.9" r="6.2"/><circle cx="889.6" cy="759.8" r="6.2"/><circle cx="896.3" cy="730.0" r="6.2"/><circle cx="899.4" cy="654.6" r="6.2"/><circle cx="902.3" cy="753.2" r="6.2"/><circle cx="905.2" cy="748.1" r="6.2"/><circle cx="909.2" cy="767.8" r="6.2"/><circle cx="912.6" cy="667.4" r="6.2"/><circle cx="916.0" cy="735.2" r="6.2"/><circle cx="919.5" cy="734.3" r="6.2"/><circle cx="922.0" cy="748.1" r="6.2"/><circle cx="925.5" cy="732.6" r="6.2"/><circle cx="928.0" cy="719.0" r="6.2"/><circle cx="930.0" cy="719.7" r="6.2"/><circle cx="932.3" cy="724.0" r="6.2"/><circle cx="935.8" cy="727.5" r="6.2"/><circle cx="937.4" cy="730.0" r="6.2"/><circle cx="941.4" cy="738.0" r="6.2"/><circle cx="944.9" cy="733.4" r="6.2"/><circle cx="948.6" cy="729.2" r="6.2"/><circle cx="950.0" cy="731.1" r="6.2"/><circle cx="952.5" cy="730.0" r="6.2"/><circle cx="955.1" cy="730.6" r="6.2"/><circle cx="958.0" cy="744.3" r="6.2"/><circle cx="961.4" cy="776.0" r="6.2"/><circle cx="977.8" cy="760.8" r="6.2"/><circle cx="980.3" cy="730.0" r="6.2"/><circle cx="983.7" cy="731.1" r="6.2"/><circle cx="987.1" cy="728.9" r="6.2"/><circle cx="991.2" cy="725.2" r="6.2"/><circle cx="994.8" cy="760.7" r="6.2"/><circle cx="997.3" cy="759.6" r="6.2"/><circle cx="1000.4" cy="736.0" r="6.2"/><circle cx="1003.5" cy="737.0" r="6.2"/><circle cx="1007.1" cy="730.8" r="6.2"/><circle cx="1010.2" cy="750.4" r="6.2"/><circle cx="1012.8" cy="745.2" r="6.2"/><circle cx="1015.8" cy="745.8" r="6.2"/><circle cx="1018.9" cy="746.3" r="6.2"/><circle cx="1021.0" cy="746.0" r="6.2"/><circle cx="1023.6" cy="746.3" r="6.2"/><circle cx="1026.1" cy="761.2" r="6.2"/><circle cx="1030.2" cy="767.9" r="6.2"/><circle cx="1033.3" cy="765.8" r="6.2"/><circle cx="1036.9" cy="762.7" r="6.2"/><circle cx="1040.0" cy="720.6" r="6.2"/><circle cx="1043.6" cy="745.2" r="6.2"/><circle cx="1046.7" cy="746.3" r="6.2"/><circle cx="1049.8" cy="755.0" r="6.2"/><circle cx="1052.9" cy="766.8" r="6.2"/><circle cx="1056.5" cy="768.4" r="6.2"/></g>
<path d="M152.5 779.5v-9.5M152.5 481.5v9.5M175.5 779.5v-5.0M175.5 481.5v5.0M199.5 779.5v-5.0M199.5 481.5v5.0M222.5 779.5v-5.0M222.5 481.5v5.0M246.5 779.5v-5.0M246.5 481.5v5.0M270.5 779.5v-9.5M270.5 481.5v9.5M293.5 779.5v-5.0M293.5 481.5v5.0M317.5 779.5v-5.0M317.5 481.5v5.0M340.5 779.5v-5.0M340.5 481.5v5.0M364.5 779.5v-5.0M364.5 481.5v5.0M388.5 779.5v-9.5M388.5 481.5v9.5M411.5 779.5v-5.0M411.5 481.5v5.0M435.5 779.5v-5.0M435.5 481.5v5.0M458.5 779.5v-5.0M458.5 481.5v5.0M482.5 779.5v-5.0M482.5 481.5v5.0M506.5 779.5v-9.5M506.5 481.5v9.5M529.5 779.5v-5.0M529.5 481.5v5.0M553.5 779.5v-5.0M553.5 481.5v5.0M576.5 779.5v-5.0M576.5 481.5v5.0M600.5 779.5v-5.0M600.5 481.5v5.0M624.5 779.5v-9.5M624.5 481.5v9.5M647.5 779.5v-5.0M647.5 481.5v5.0M670.5 779.5v-5.0M670.5 481.5v5.0M694.5 779.5v-5.0M694.5 481.5v5.0M718.5 779.5v-5.0M718.5 481.5v5.0M741.5 779.5v-9.5M741.5 481.5v9.5M765.5 779.5v-5.0M765.5 481.5v5.0M788.5 779.5v-5.0M788.5 481.5v5.0M812.5 779.5v-5.0M812.5 481.5v5.0M836.5 779.5v-5.0M836.5 481.5v5.0M859.5 779.5v-9.5M859.5 481.5v9.5M883.5 779.5v-5.0M883.5 481.5v5.0M906.5 779.5v-5.0M906.5 481.5v5.0M930.5 779.5v-5.0M930.5 481.5v5.0M954.5 779.5v-5.0M954.5 481.5v5.0M977.5 779.5v-9.5M977.5 481.5v9.5M1001.5 779.5v-5.0M1001.5 481.5v5.0M1024.5 779.5v-5.0M1024.5 481.5v5.0M1048.5 779.5v-5.0M1048.5 481.5v5.0M152.5 779.5h9.5M1056.5 779.5h-9.5M152.5 767.5h5.0M1056.5 767.5h-5.0M152.5 755.5h5.0M1056.5 755.5h-5.0M152.5 743.5h5.0M1056.5 743.5h-5.0M152.5 731.5h5.0M1056.5 731.5h-5.0M152.5 719.5h9.5M1056.5 719.5h-9.5M152.5 707.5h5.0M1056.5 707.5h-5.0M152.5 695.5h5.0M1056.5 695.5h-5.0M152.5 683.5h5.0M1056.5 683.5h-5.0M152.5 671.5h5.0M1056.5 671.5h-5.0M152.5 660.5h9.5M1056.5 660.5h-9.5M152.5 647.5h5.0M1056.5 647.5h-5.0M152.5 635.5h5.0M1056.5 635.5h-5.0M152.5 624.5h5.0M1056.5 624.5h-5.0M152.5 612.5h5.0M1056.5 612.5h-5.0M152.5 600.5h9.5M1056.5 600.5h-9.5M152.5 588.5h5.0M1056.5 588.5h-5.0M152.5 576.5h5.0M1056.5 576.5h-5.0M152.5 564.5h5.0M1056.5 564.5h-5.0M152.5 552.5h5.0M1056.5 552.5h-5.0M152.5 540.5h9.5M1056.5 540.5h-9.5M152.5 528.5h5.0M1056.5 528.5h-5.0M152.5 516.5h5.0M1056.5 516.5h-5.0M152.5 504.5h5.0M1056.5 504.5h-5.0M152.5 492.5h5.0M1056.5 492.5h-5.0M152.5 481.5h9.5M1056.5 481.5h-9.5" stroke="#111" stroke-width="1" fill="none"/>
<rect x="152.5" y="481.5" width="904.0" height="298.0" stroke="#111" stroke-width="1" fill="none"/>
<text x="131.68" y="787.45" font-size="23.7" fill="#111" textLength="13.15" lengthAdjust="spacingAndGlyphs">0</text><text x="116.46" y="727.81" font-size="23.7" fill="#111" textLength="28.45" lengthAdjust="spacingAndGlyphs">10</text><text x="116.42" y="668.17" font-size="23.7" fill="#111" textLength="28.49" lengthAdjust="spacingAndGlyphs">20</text><text x="116.74" y="608.53" font-size="23.7" fill="#111" textLength="28.16" lengthAdjust="spacingAndGlyphs">30</text><text x="117.13" y="548.89" font-size="23.7" fill="#111" textLength="27.75" lengthAdjust="spacingAndGlyphs">40</text><text x="116.69" y="489.25" font-size="23.7" fill="#111" textLength="28.21" lengthAdjust="spacingAndGlyphs">50</text><text x="119.47" y="809.53" font-size="23.7" fill="#111" textLength="64.73" lengthAdjust="spacingAndGlyphs">00:00</text><text x="237.25" y="809.53" font-size="23.7" fill="#111" textLength="64.73" lengthAdjust="spacingAndGlyphs">03:00</text><text x="355.04" y="809.53" font-size="23.7" fill="#111" textLength="64.73" lengthAdjust="spacingAndGlyphs">06:00</text><text x="472.82" y="809.53" font-size="23.7" fill="#111" textLength="64.73" lengthAdjust="spacingAndGlyphs">09:00</text><text x="589.62" y="809.53" font-size="23.7" fill="#111" textLength="65.73" lengthAdjust="spacingAndGlyphs">12:00</text><text x="707.40" y="809.53" font-size="23.7" fill="#111" textLength="65.73" lengthAdjust="spacingAndGlyphs">15:00</text><text x="825.18" y="809.53" font-size="23.7" fill="#111" textLength="65.73" lengthAdjust="spacingAndGlyphs">18:00</text><text x="943.66" y="809.53" font-size="23.7" fill="#111" textLength="65.02" lengthAdjust="spacingAndGlyphs">21:00</text><text x="589.15" y="839.63" font-size="23.7" fill="#111" textLength="30.38" lengthAdjust="spacingAndGlyphs">UT</text><text transform="translate(105.0 697.10) rotate(-90)" x="-1.18" y="0" font-size="24.0" fill="#111" textLength="134.64" lengthAdjust="spacingAndGlyphs">Sigma P [S]</text><text x="422.02" y="468.90" font-size="24.0" fill="#000" textLength="133.01" lengthAdjust="spacingAndGlyphs">1993-10-19</text><text x="569.83" y="468.90" font-size="24.0" fill="#000" textLength="115.54" lengthAdjust="spacingAndGlyphs">cp1k@uhf</text><text x="691.76" y="468.90" font-size="24.0" fill="#000" textLength="70.15" lengthAdjust="spacingAndGlyphs">Sigma</text><text x="771.26" y="468.90" font-size="24.0" fill="#000" textLength="14.17" lengthAdjust="spacingAndGlyphs">P</text>
</svg></body></html>
